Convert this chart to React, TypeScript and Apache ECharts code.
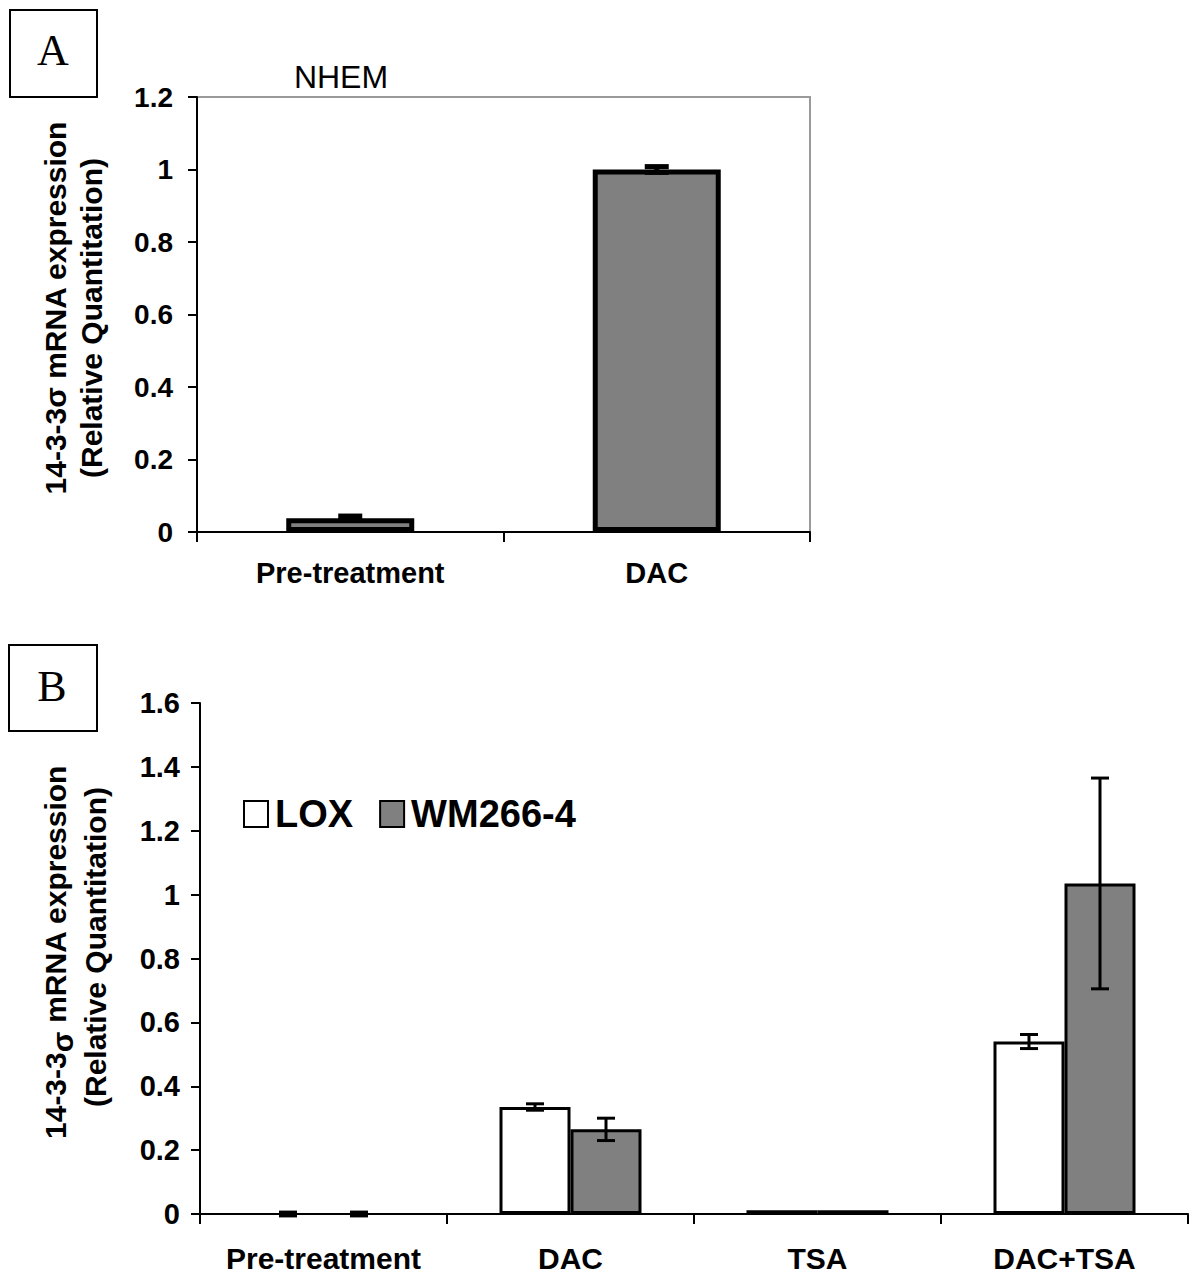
import React, { useEffect, useRef } from "react";
import * as echarts from "echarts";

// Panel A (NHEM)
const catsA = ["Pre-treatment", "DAC"];
const valsA = [0.038, 1.0];
const errA = [0.006, 0.008];
const ticksA = { min: 0, max: 1.2, interval: 0.2 };

// Panel B
const catsB = ["Pre-treatment", "DAC", "TSA", "DAC+TSA"];
const seriesNamesB = ["LOX", "WM266-4"];
const loxVals = [0, 0.335, 0.012, 0.54];
const loxErr = [0.006, 0.01, 0, 0.022];
const wmVals = [0, 0.265, 0.012, 1.035];
const wmErr = [0.006, 0.035, 0, 0.33];
const ticksB = { min: 0, max: 1.6, interval: 0.2 };

const FONT = "'Liberation Sans', Arial, Helvetica, sans-serif";
const GRAY = "#808080";

function fmt(v: number) {
  return String(+v.toFixed(1));
}

function errorSeries(
  xAxisIndex: number,
  yAxisIndex: number,
  vals: number[],
  errs: number[],
  offset: number,
  capW: number,
  lw: number
) {
  return {
    type: "custom",
    xAxisIndex,
    yAxisIndex,
    z: 10,
    clip: false,
    silent: true,
    data: vals.map((v, i) => [i, v, errs[i]]),
    renderItem: (params: any, api: any) => {
      const c = api.value(0);
      const v = api.value(1);
      const e = api.value(2);
      if (!e) return { type: "group", children: [] };
      const hi = api.coord([c, v + e]);
      const lo = api.coord([c, v - e]);
      const x = hi[0] + offset;
      const st = { stroke: "#000", lineWidth: lw };
      return {
        type: "group",
        children: [
          { type: "line", shape: { x1: x, y1: hi[1], x2: x, y2: lo[1] }, style: st },
          { type: "line", shape: { x1: x - capW / 2, y1: hi[1], x2: x + capW / 2, y2: hi[1] }, style: st },
          { type: "line", shape: { x1: x - capW / 2, y1: lo[1], x2: x + capW / 2, y2: lo[1] }, style: st },
        ],
      };
    },
  };
}

export default function App() {
  const ref = useRef<HTMLDivElement>(null);
  useEffect(() => {
    document.body.style.margin = "0";
    const chart = echarts.init(ref.current!, undefined, { renderer: "svg" });
    const axisLabelBase = { color: "#000", fontFamily: FONT, fontWeight: "bold" };
    const barWA = 128;
    const barWB = 71;
    const option: any = {
      animation: false,
      backgroundColor: "#fff",
      grid: [
        { left: 197, top: 97, width: 613, height: 435, show: true, borderColor: "#9a9a9a", borderWidth: 2, backgroundColor: "transparent" },
        { left: 200, top: 703, width: 988, height: 511, show: false },
      ],
      xAxis: [
        {
          type: "category",
          gridIndex: 0,
          data: catsA,
          axisLine: { lineStyle: { color: "#000", width: 2 } },
          axisTick: { show: true, length: 10, lineStyle: { color: "#000", width: 2 }, interval: 0 },
          axisLabel: { ...axisLabelBase, fontSize: 29, margin: 26, interval: 0 },
        },
        {
          type: "category",
          gridIndex: 1,
          data: catsB,
          axisLine: { lineStyle: { color: "#000", width: 2 } },
          axisTick: { show: true, length: 10, lineStyle: { color: "#000", width: 2 }, interval: 0 },
          axisLabel: { ...axisLabelBase, fontSize: 30, margin: 29, interval: 0 },
        },
      ],
      yAxis: [
        {
          type: "value",
          gridIndex: 0,
          ...ticksA,
          axisLine: { show: true, lineStyle: { color: "#000", width: 2 } },
          axisTick: { show: true, length: 9, lineStyle: { color: "#000", width: 2 } },
          splitLine: { show: false },
          axisLabel: { ...axisLabelBase, fontSize: 28, margin: 24, formatter: fmt },
        },
        {
          type: "value",
          gridIndex: 1,
          ...ticksB,
          axisLine: { show: true, lineStyle: { color: "#000", width: 2 } },
          axisTick: { show: true, length: 9, lineStyle: { color: "#000", width: 2 } },
          splitLine: { show: false },
          axisLabel: { ...axisLabelBase, fontSize: 29, margin: 20, formatter: fmt },
        },
      ],
      legend: {
        left: 238,
        top: 790,
        icon: "rect",
        itemWidth: 24,
        itemHeight: 26,
        itemGap: 26,
        data: seriesNamesB,
        textStyle: { color: "#000", fontFamily: FONT, fontWeight: "bold", fontSize: 38, padding: [0, 0, 0, 2] },
      },
      graphic: [
        { type: "rect", shape: { x: 10, y: 10, width: 87, height: 87 }, style: { fill: "#fff", stroke: "#000", lineWidth: 2 } },
        { type: "text", x: 53, y: 50, style: { text: "A", font: "44px 'Liberation Serif', 'Times New Roman', serif", fill: "#000", align: "center", verticalAlign: "middle" } },
        { type: "rect", shape: { x: 9, y: 645, width: 88, height: 86 }, style: { fill: "#fff", stroke: "#000", lineWidth: 2 } },
        { type: "text", x: 52, y: 686, style: { text: "B", font: "44px 'Liberation Serif', 'Times New Roman', serif", fill: "#000", align: "center", verticalAlign: "middle" } },
        { type: "text", x: 341, y: 77, style: { text: "NHEM", font: `32px ${FONT}`, fill: "#000", align: "center", verticalAlign: "middle" } },
        { type: "text", x: 55, y: 308, rotation: Math.PI / 2, style: { text: "14-3-3σ mRNA expression", font: `bold 30px ${FONT}`, fill: "#000", align: "center", verticalAlign: "middle" } },
        { type: "text", x: 91, y: 318, rotation: Math.PI / 2, style: { text: "(Relative Quantitation)", font: `bold 30px ${FONT}`, fill: "#000", align: "center", verticalAlign: "middle" } },
        {
          type: "text",
          x: 55,
          y: 952,
          rotation: Math.PI / 2,
          style: {
            text: "14-3-3{s|σ} mRNA expression",
            font: `bold 30px ${FONT}`,
            fill: "#000",
            align: "center",
            verticalAlign: "middle",
            rich: { s: { font: `bold 30px ${FONT}`, fill: "#000", padding: [14, 0, 0, 0] } },
          },
        },
        { type: "text", x: 95, y: 947, rotation: Math.PI / 2, style: { text: "(Relative Quantitation)", font: `bold 30px ${FONT}`, fill: "#000", align: "center", verticalAlign: "middle" } },
      ],
      series: [
        {
          type: "bar",
          xAxisIndex: 0,
          yAxisIndex: 0,
          barWidth: barWA,
          data: valsA,
          itemStyle: { color: GRAY, borderColor: "#000", borderWidth: 5 },
        },
        errorSeries(0, 0, valsA, errA, 0, 24, 5),
        {
          type: "bar",
          name: seriesNamesB[0],
          xAxisIndex: 1,
          yAxisIndex: 1,
          barWidth: barWB,
          barGap: "0%",
          data: loxVals.map((v) => (v === 0 ? { value: v, itemStyle: { borderWidth: 0 } } : v)),
          itemStyle: { color: "#fff", borderColor: "#000", borderWidth: 3 },
        },
        {
          type: "bar",
          name: seriesNamesB[1],
          xAxisIndex: 1,
          yAxisIndex: 1,
          barWidth: barWB,
          barGap: "0%",
          data: wmVals.map((v) => (v === 0 ? { value: v, itemStyle: { borderWidth: 0 } } : v)),
          itemStyle: { color: GRAY, borderColor: "#000", borderWidth: 3 },
        },
        errorSeries(1, 1, loxVals, loxErr, -barWB / 2, 18, 3),
        errorSeries(1, 1, wmVals, wmErr, barWB / 2, 18, 3),
      ],
    };
    chart.setOption(option);
    return () => chart.dispose();
  }, []);
  return <div ref={ref} style={{ width: 1200, height: 1281 }} />;
}
